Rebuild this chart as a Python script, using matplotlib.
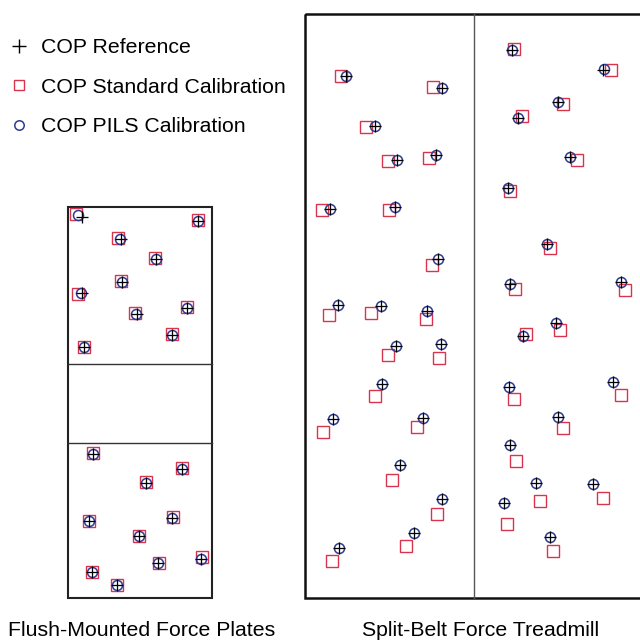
import matplotlib.pyplot as plt
from matplotlib.patches import Rectangle

plt.rcParams['font.family'] = ['Liberation Sans', 'DejaVu Sans']

# point positions (pixel units, y down)
# flush-mounted force plates
plate_ref_x = [81.5, 198.3, 120.5, 156, 122, 82, 136.5, 187.3, 172, 84.3,
               92.7, 181.7, 145.7, 89, 172.3, 139.3, 200.7, 158.3, 92, 117]
plate_ref_y = [216.5, 221, 239, 259, 281.7, 293.3, 313.7, 307.7, 335, 346.7,
               454.3, 469.3, 482.7, 521.3, 518, 536, 559, 563.3, 572, 585.3]
plate_pils_x = [78.3, 198.3, 120, 156, 122, 80.7, 136, 187.3, 172, 84.3,
                92.7, 181.7, 145.7, 89, 172.3, 139.3, 200.7, 158.3, 92, 117]
plate_pils_y = plate_ref_y[:]
plate_pils_y[0] = 215
plate_std_x = [76, 197.7, 118.3, 155.3, 121.3, 78.3, 135.3, 187.3, 171.7, 84,
               92.7, 182, 145.7, 88.7, 172.7, 139, 202, 159, 92, 117]
plate_std_y = [214, 220, 237.7, 258, 281, 294, 313.3, 307, 334.3, 346.7,
               453.3, 468.3, 482, 521, 516.7, 535.7, 557.3, 562.7, 571.7, 585]

# split-belt force treadmill
belt_ref_x = [346, 441.7, 374.7, 397, 436, 330.3, 395.3, 438, 338.3, 381.3,
              427, 395.7, 440.7, 381.7, 333.3, 422.7, 400, 442.3, 413.7, 339,
              512, 603.3, 558, 517.7, 570.3, 508.3, 547, 510.3, 621, 556,
              522.7, 509.3, 613, 558.3, 510.3, 536, 593, 504, 550]
belt_ref_y = [76, 87.7, 126, 160.3, 154.7, 209, 206.7, 259.3, 305, 306,
              310.7, 345.7, 343.7, 384.3, 419, 417.7, 464.7, 499, 533.3, 548.3,
              50, 70, 102.3, 117.7, 156.7, 188.3, 244.3, 284.3, 282.3, 322.7,
              336, 386.7, 382.3, 416.7, 444.7, 483.3, 484.3, 503.3, 536.7]
belt_pils_x = belt_ref_x[:]
belt_pils_x[21] = 603.7
belt_pils_y = belt_ref_y[:]
belt_pils_y[21] = 68.7
belt_std_x = [341, 433.3, 366, 388, 429.3, 322, 388.7, 432, 329, 371.3,
              426.3, 388, 439.3, 374.7, 323.3, 417, 392, 436.7, 406, 332.3,
              514.3, 610.7, 562.7, 521.7, 577.3, 510, 550, 515.3, 625, 559.7,
              525.7, 514.3, 621, 563, 515.7, 540, 603.3, 507.3, 553]
belt_std_y = [76, 87.3, 127, 160.7, 158.3, 210, 210, 264.7, 315.3, 313.3,
              318.7, 355, 357.7, 395.7, 431.7, 427.3, 480, 513.7, 546, 560.7,
              49, 70.3, 104, 116.3, 159.7, 191, 248.3, 289.3, 290, 330,
              334, 399.3, 395, 428.3, 461, 501, 497.7, 523.7, 551.3]

labels = ['COP Reference', 'COP Standard Calibration', 'COP PILS Calibration']
titles = ['Flush-Mounted Force Plates', 'Split-Belt Force Treadmill']

red = '#d8344e'
blue = '#2f3b8f'

fig = plt.figure(figsize=(6.4, 6.42), dpi=100)
ax = fig.add_axes([0, 0, 1, 1])
ax.set_xlim(0, 640)
ax.set_ylim(642, 0)
ax.axis('off')

# force plate outlines
ax.add_patch(Rectangle((68, 207), 144, 391, fill=False, lw=1.5, ec='#222222'))
ax.plot([68, 212], [363.5, 363.5], color='#333333', lw=1.0)
ax.plot([68, 212], [442.5, 442.5], color='#333333', lw=1.0)
# treadmill outline (runs off the right edge)
ax.add_patch(Rectangle((305, 14), 345, 584, fill=False, lw=1.8, ec='#111111',
                       clip_on=True))
ax.plot([474, 474], [14, 598], color='#555555', lw=1.0)

for xs, ys, xp, yp, xr, yr in [
        (plate_std_x, plate_std_y, plate_pils_x, plate_pils_y, plate_ref_x, plate_ref_y),
        (belt_std_x, belt_std_y, belt_pils_x, belt_pils_y, belt_ref_x, belt_ref_y)]:
    ax.plot(xs, ys, 's', mfc='none', mec=red, ms=8, mew=1.0, zorder=3)
    ax.plot(xp, yp, 'o', mfc='none', mec=blue, ms=7.2, mew=1.1, zorder=4)
    ax.plot(xr, yr, '+', color='black', ms=8.5, mew=0.9, zorder=5)

h_ref, = ax.plot([], [], '+', color='black', ms=9.5, mew=1.0)
h_std, = ax.plot([], [], 's', mfc='none', mec=red, ms=7.5, mew=1.0)
h_pils, = ax.plot([], [], 'o', mfc='none', mec=blue, ms=6.8, mew=1.1)
ax.legend([h_ref, h_std, h_pils], labels, loc='upper left',
          bbox_to_anchor=(0.003, 0.95), frameon=False, fontsize=15.3,
          handlelength=1.0, handletextpad=0.55, labelspacing=0.96,
          borderpad=0.0, borderaxespad=0.3)

ax.text(142, 631, titles[0], ha='center', va='center', fontsize=15.3)
ax.text(481, 631, titles[1], ha='center', va='center', fontsize=15.3)

fig.savefig('out.png', dpi=100)
